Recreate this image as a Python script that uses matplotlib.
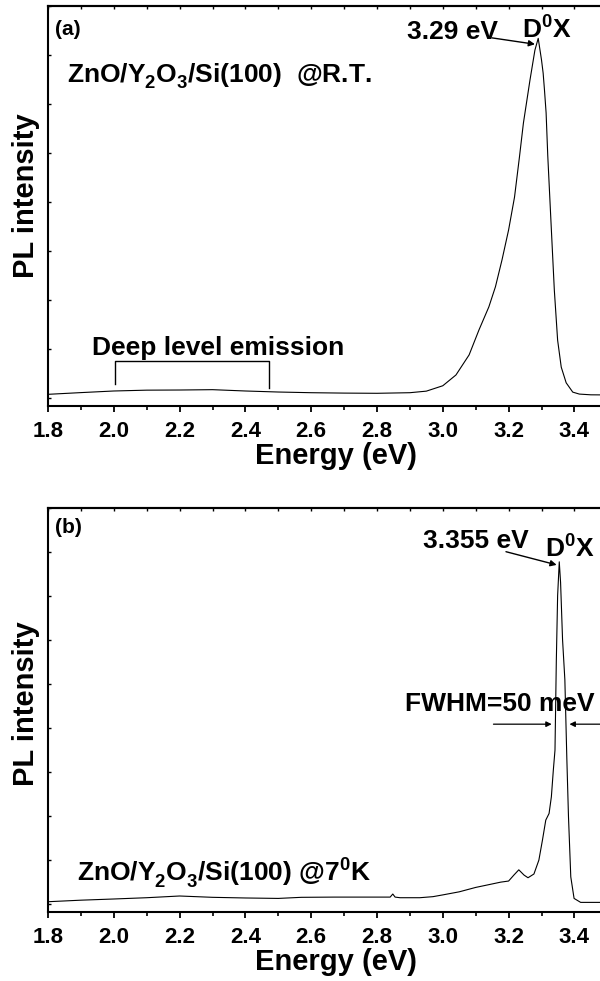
import matplotlib
matplotlib.use("Agg")
import matplotlib.pyplot as plt
from matplotlib.ticker import MultipleLocator

plt.rcParams['font.family'] = ['Liberation Sans', 'DejaVu Sans']
plt.rcParams['font.weight'] = 'bold'
plt.rcParams['mathtext.fontset'] = 'custom'
plt.rcParams['mathtext.rm'] = 'Liberation Sans:bold'
plt.rcParams['mathtext.it'] = 'Liberation Sans:bold'
plt.rcParams['mathtext.bf'] = 'Liberation Sans:bold'

# drop chemical-formula subscripts a little lower than the mathtext default
try:
    from matplotlib import _mathtext
    _mathtext.FontConstantsBase.sub1 = 0.45
except Exception:
    pass

# Room-temperature PL spectrum (arbitrary units)
energy_rt = [1.80, 1.90, 2.00, 2.10, 2.20, 2.30, 2.40, 2.50, 2.60, 2.70, 2.80, 2.90,
             2.95, 3.00, 3.04, 3.08, 3.11, 3.14, 3.16, 3.18, 3.20, 3.218,
             3.233, 3.245, 3.255, 3.265, 3.28, 3.29, 3.30, 3.305, 3.309, 3.314,
             3.319, 3.329, 3.339, 3.349, 3.36, 3.375, 3.395, 3.415, 3.45, 3.55]
intensity_rt = [0.075, 0.11, 0.143, 0.16, 0.163, 0.17, 0.143, 0.122, 0.108, 0.10, 0.096, 0.108,
                0.14, 0.25, 0.47, 0.88, 1.39, 1.86, 2.27, 2.82, 3.43, 4.10,
                4.92, 5.61, 6.05, 6.49, 7.10, 7.34, 6.9, 6.63, 6.29, 5.82,
                4.95, 3.57, 2.20, 1.18, 0.63, 0.31, 0.12, 0.08, 0.065, 0.06]

# Low-temperature (7 K) PL spectrum (arbitrary units)
energy_lt = [1.80, 1.90, 2.00, 2.10, 2.20, 2.30, 2.40, 2.50, 2.57, 2.67, 2.77, 2.84,
             2.848, 2.855, 2.87, 2.93, 2.97, 3.00, 3.05, 3.10, 3.135, 3.176, 3.20,
             3.216, 3.231, 3.247, 3.259, 3.277, 3.292, 3.303, 3.313, 3.323, 3.330,
             3.336, 3.341, 3.345, 3.349, 3.354, 3.358, 3.364, 3.371, 3.377, 3.382,
             3.389, 3.399, 3.419, 3.55]
intensity_lt = [0.045, 0.08, 0.107, 0.136, 0.175, 0.145, 0.13, 0.12, 0.145, 0.15, 0.15, 0.15,
                0.22, 0.15, 0.136, 0.136, 0.16, 0.2, 0.27, 0.37, 0.425, 0.49, 0.515,
                0.65, 0.77, 0.65, 0.59, 0.675, 0.99, 1.45, 1.90, 2.05, 2.43,
                3.04, 3.49, 5.5, 7.0, 7.77, 7.3, 6.0, 5.09, 3.3, 1.98,
                0.61, 0.12, 0.03, 0.03]

peak_rt = 3.29
peak_lt = 3.355
fwhm_lt = 0.050
xlim = (1.8, 3.55)

W, H = 600, 981
fig = plt.figure(figsize=(W / 100, H / 100), dpi=100)

ax_w = (xlim[1] - xlim[0]) * 329 / W
ax_a = fig.add_axes([48 / W, 1 - 406 / H, ax_w, 400 / H])
ax_b = fig.add_axes([48 / W, 1 - 912.3 / H, ax_w, 404.6 / H])


def style_axes(ax, ymax, ybottom):
    ax.set_xlim(*xlim)
    ax.set_ylim(ybottom, ymax)
    ax.xaxis.set_major_locator(MultipleLocator(0.2))
    ax.xaxis.set_minor_locator(MultipleLocator(0.1))
    ax.yaxis.set_major_locator(MultipleLocator(1))
    ax.tick_params(axis='x', which='major', direction='out', length=4.5, width=1.3,
                   labelsize=16, pad=6, top=False)
    ax.tick_params(axis='x', which='minor', direction='out', length=3, width=1.2, top=False)
    ax.tick_params(axis='y', which='major', direction='in', length=2.5, width=1.0,
                   labelleft=False, right=False)
    sec = ax.secondary_xaxis('top')
    sec.xaxis.set_major_locator(MultipleLocator(0.1))
    sec.tick_params(direction='in', length=2.5, width=1.0, labeltop=False)
    sec.spines['top'].set_linewidth(1.5)
    for s in ax.spines.values():
        s.set_linewidth(1.5)
    for lab in ax.get_xticklabels():
        lab.set_fontweight('bold')
    ax.set_xlabel('Energy (eV)', fontsize=21, fontweight='bold', labelpad=0)
    ax.set_ylabel('PL intensity', fontsize=21, fontweight='bold')
    ax.yaxis.label.set_verticalalignment('center')


style_axes(ax_a, 8, -8 / 49)
style_axes(ax_b, 9, -8.6 / 44)
ax_a.yaxis.set_label_coords(-0.038, 0.525)
ax_b.yaxis.set_label_coords(-0.038, 0.515)

# Panel (a): room temperature
ax_a.plot(energy_rt, intensity_rt, color='black', lw=0.8)
ax_a.text(0.012, 0.965, '(a)', transform=ax_a.transAxes, fontsize=15,
          fontweight='bold', ha='left', va='top')
ax_a.text(1.857, 6.43, r'ZnO/Y$_{2}$O$_{3}$/Si(100)  @R.T.', fontsize=19,
          fontweight='bold', ha='left', va='baseline')
ax_a.text(2.890, 7.32, f'{peak_rt:.2f} eV', fontsize=19, fontweight='bold',
          ha='left', va='baseline')
ax_a.text(3.240, 7.33, r'D$^{0}$X', fontsize=19, fontweight='bold',
          ha='left', va='baseline')
ax_a.annotate('', xy=(3.280, 7.22), xytext=(3.149, 7.35),
              arrowprops=dict(arrowstyle='-|>', color='black', lw=1.0,
                              mutation_scale=9, shrinkA=0, shrinkB=0))
ax_a.text(1.934, 0.878, 'Deep level emission', fontsize=19, fontweight='bold',
          ha='left', va='baseline')
ax_a.plot([2.003, 2.003, 2.471, 2.471], [0.286, 0.755, 0.755, 0.21],
          color='black', lw=1.0)

# Panel (b): 7 K
ax_b.plot(energy_lt, intensity_lt, color='black', lw=0.8)
ax_b.text(0.012, 0.9745, '(b)', transform=ax_b.transAxes, fontsize=15,
          fontweight='bold', ha='left', va='top')
ax_b.text(2.941, 8.08, f'{peak_lt:.3f} eV', fontsize=19, fontweight='bold',
          ha='left', va='baseline')
ax_b.text(3.311, 7.86, r'D$^{0}$X', fontsize=19, fontweight='bold',
          ha='left', va='baseline')
ax_b.annotate('', xy=(3.346, 7.70), xytext=(3.192, 8.0),
              arrowprops=dict(arrowstyle='-|>', color='black', lw=1.0,
                              mutation_scale=9, shrinkA=0, shrinkB=0))
ax_b.text(2.885, 4.39, f'FWHM={fwhm_lt * 1000:.0f} meV', fontsize=19,
          fontweight='bold', ha='left', va='baseline')
half_left = peak_lt - 0.024
half_right = peak_lt + 0.030
ax_b.annotate('', xy=(half_left, 4.08), xytext=(3.154, 4.08),
              arrowprops=dict(arrowstyle='-|>', color='black', lw=0.9,
                              mutation_scale=8, shrinkA=0, shrinkB=0))
ax_b.annotate('', xy=(half_right, 4.08), xytext=(3.55, 4.08),
              arrowprops=dict(arrowstyle='-|>', color='black', lw=0.9,
                              mutation_scale=8, shrinkA=0, shrinkB=0))
ax_b.text(1.887, 0.5, r'ZnO/Y$_{2}$O$_{3}$/Si(100) @7$^{0}$K', fontsize=19,
          fontweight='bold', ha='left', va='baseline')

fig.savefig('out.png', dpi=100)
